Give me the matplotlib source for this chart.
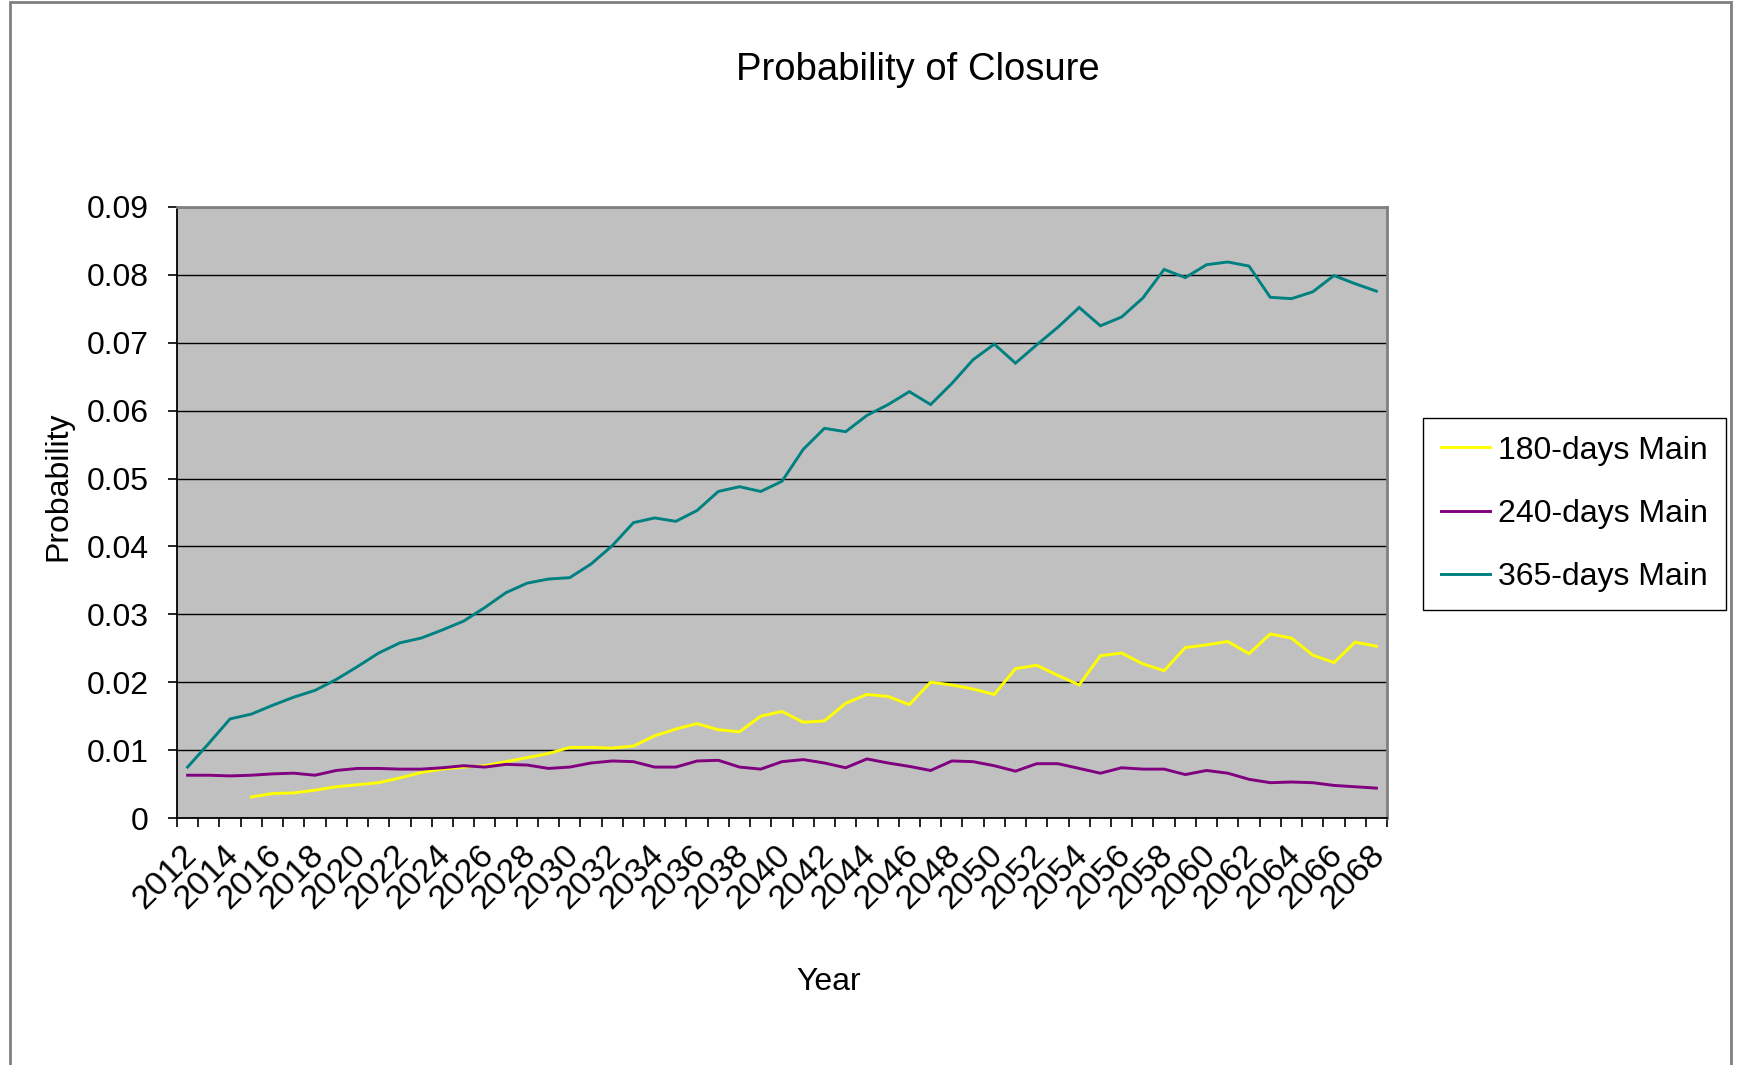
import numpy as np
import matplotlib
matplotlib.use("Agg")
import matplotlib.pyplot as plt
from matplotlib.patches import Rectangle
from matplotlib.transforms import ScaledTranslation

plt.rcParams["font.family"] = ["Liberation Sans", "DejaVu Sans"]

# ---- data -------------------------------------------------------------
years = list(range(2012, 2069))

p180_days = [np.nan, np.nan, np.nan,
             0.0031, 0.0036, 0.0037, 0.0041, 0.0046, 0.0049, 0.0052, 0.0059,
             0.0067, 0.0072, 0.0075, 0.0077, 0.0083, 0.0089, 0.0095, 0.0104,
             0.0104, 0.0103, 0.0106, 0.0121, 0.0131, 0.0139, 0.0130, 0.0127,
             0.0150, 0.0157, 0.0141, 0.0143, 0.0169, 0.0182, 0.0179, 0.0167,
             0.0200, 0.0196, 0.0190, 0.0182, 0.0220, 0.0225, 0.0210, 0.0196,
             0.0239, 0.0243, 0.0227, 0.0217, 0.0251, 0.0255, 0.0260, 0.0242,
             0.0271, 0.0265, 0.0240, 0.0229, 0.0259, 0.0253]

p240_days = [0.0063, 0.0063, 0.0062, 0.0063, 0.0065, 0.0066, 0.0063, 0.0070,
             0.0073, 0.0073, 0.0072, 0.0072, 0.0074, 0.0077, 0.0075, 0.0079,
             0.0078, 0.0073, 0.0075, 0.0081, 0.0084, 0.0083, 0.0075, 0.0075,
             0.0084, 0.0085, 0.0075, 0.0072, 0.0083, 0.0086, 0.0081, 0.0074,
             0.0087, 0.0081, 0.0076, 0.0070, 0.0084, 0.0083, 0.0077, 0.0069,
             0.0080, 0.0080, 0.0073, 0.0066, 0.0074, 0.0072, 0.0072, 0.0064,
             0.0070, 0.0066, 0.0057, 0.0052, 0.0053, 0.0052, 0.0048, 0.0046,
             0.0044]

p365_days = [0.0075, 0.0110, 0.0146, 0.0153, 0.0166, 0.0178, 0.0188, 0.0204,
             0.0223, 0.0243, 0.0258, 0.0265, 0.0277, 0.0290, 0.0310, 0.0332,
             0.0346, 0.0352, 0.0354, 0.0374, 0.0401, 0.0435, 0.0442, 0.0437,
             0.0453, 0.0481, 0.0488, 0.0481, 0.0496, 0.0543, 0.0574, 0.0569,
             0.0593, 0.0609, 0.0628, 0.0609, 0.0640, 0.0675, 0.0698, 0.0670,
             0.0697, 0.0723, 0.0752, 0.0725, 0.0738, 0.0766, 0.0808, 0.0796,
             0.0815, 0.0819, 0.0813, 0.0767, 0.0765, 0.0775, 0.0799, 0.0787,
             0.0776]

series_names = ["180-days Main", "240-days Main", "365-days Main"]
series_colors = ["#FFFF00", "#800080", "#008080"]

y_ticks = [0, 0.01, 0.02, 0.03, 0.04, 0.05, 0.06, 0.07, 0.08, 0.09]
y_tick_labels = ["0", "0.01", "0.02", "0.03", "0.04", "0.05", "0.06",
                 "0.07", "0.08", "0.09"]

# ---- figure -----------------------------------------------------------
W, H = 1737, 1065
fig = plt.figure(figsize=(W / 100, H / 100), dpi=100)
fig.patch.set_facecolor("white")

# chart-area outline
fig.add_artist(Rectangle((10 / W, -0.02), (1731 - 10) / W, 1.02 - 1.5 / H,
                         transform=fig.transFigure, facecolor="none",
                         edgecolor="#808080", linewidth=2.0, zorder=0))

ax = fig.add_axes([177 / W, 1 - 818 / H, 1210 / W, 611 / H])
ax.set_facecolor("#C0C0C0")

x = np.arange(len(years))
for vals, name, col in zip([p180_days, p240_days, p365_days],
                           series_names, series_colors):
    ax.plot(x, vals, color=col, linewidth=2.1, label=name, zorder=3,
            solid_joinstyle="miter")

ax.set_xlim(-0.5, len(years) - 0.5)
ax.set_ylim(0, 0.09)

# horizontal gridlines
ax.set_yticks(y_ticks)
ax.set_yticklabels(y_tick_labels)
ax.yaxis.grid(True, color="black", linewidth=1.0, zorder=1)
ax.set_axisbelow(True)

# category ticks between categories, labels on every other year
ax.set_xticks(np.arange(-0.5, len(years), 1.0), minor=True)
label_idx = x[::2]
ax.set_xticks(label_idx)
ax.set_xticklabels([str(years[i]) for i in label_idx], rotation=45,
                   ha="right", va="center", rotation_mode="anchor")
ax.tick_params(axis="x", which="major", length=0, pad=23, labelsize=24.5)
ax.tick_params(axis="x", which="minor", length=6.5, width=1.2,
               direction="out", color="black")
ax.tick_params(axis="y", which="major", length=6.5, width=1.2,
               direction="out", pad=14, labelsize=23, color="black")

shift = ScaledTranslation(4 / 100, 0, fig.dpi_scale_trans)
for lab in ax.get_xticklabels():
    lab.set_transform(lab.get_transform() + shift)

for side in ["top", "right"]:
    ax.spines[side].set_color("#808080")
    ax.spines[side].set_linewidth(2.0)
for side in ["left", "bottom"]:
    ax.spines[side].set_color("black")
    ax.spines[side].set_linewidth(1.3)

fig.text(918 / W, 1 - 69.5 / H, "Probability of Closure", fontsize=27.5,
         ha="center", va="center")
fig.text(58 / W, 1 - 486 / H, "Probability", fontsize=23, rotation=90,
         ha="center", va="center")
fig.text(829 / W, 1 - 982 / H, "Year", fontsize=23, ha="center", va="center")

leg = fig.legend(loc="upper left", bbox_to_anchor=(1423 / W, 1 - 418 / H),
                 bbox_transform=fig.transFigure, fontsize=23,
                 frameon=True, fancybox=False, edgecolor="black",
                 framealpha=1, borderpad=0.55, labelspacing=1.04,
                 handlelength=1.55, handletextpad=0.25, borderaxespad=0)
leg.get_frame().set_linewidth(1.0)

fig.savefig("out.png", dpi=100)
